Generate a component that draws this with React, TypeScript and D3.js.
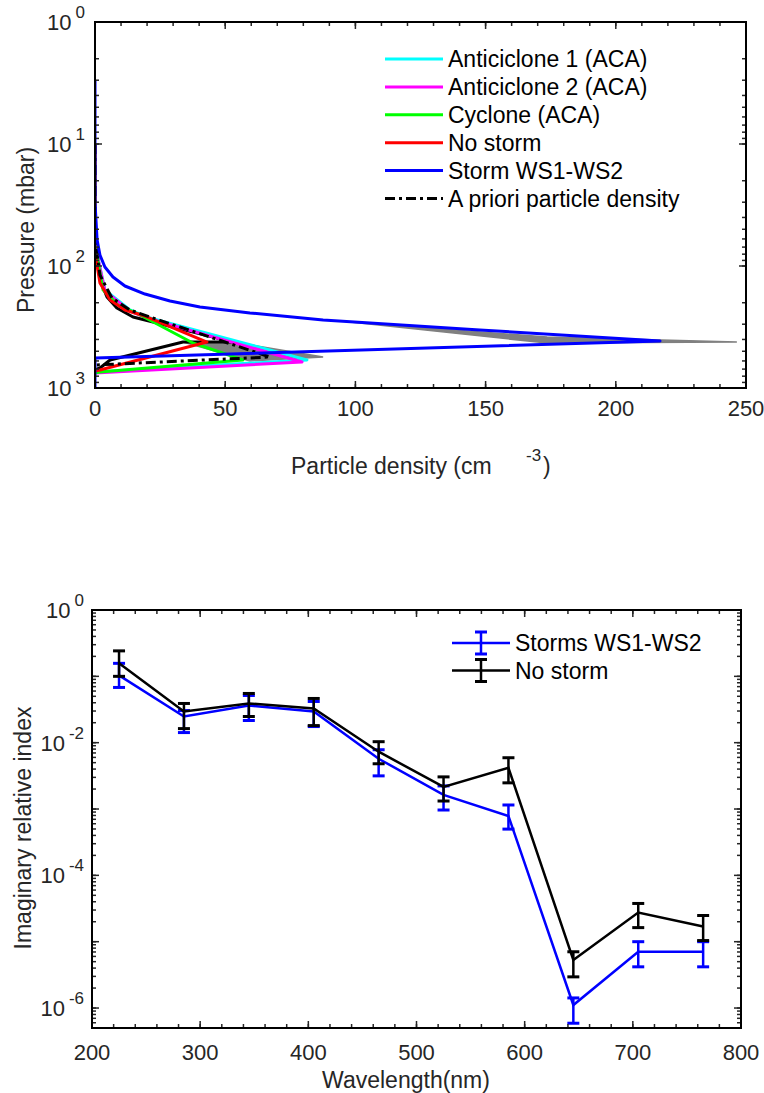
import React from "react";
import * as d3 from "d3";

// ---------- Top chart data: particle density (cm^-3) vs pressure (mbar) ----------
const legendNames = ["Anticiclone 1 (ACA)", "Anticiclone 2 (ACA)", "Cyclone (ACA)", "No storm", "Storm WS1-WS2", "A priori particle density"];

const cyanP = [10, 67, 157, 229.5, 267, 589, 739];
const cyanD = [0, 0, 3.8, 13.4, 21.1, 81.4, 0];

const magentaP = [10, 67, 160, 234, 272, 612, 753];
const magentaD = [0, 0, 3.8, 13.4, 21.1, 79.5, 0];

const greenP = [10, 67, 157, 209, 252, 428, 589, 739, 753];
const greenD = [0, 0, 3.1, 8.8, 17.3, 37.6, 56.8, 1.9, 0];

const redP = [10, 78, 138, 190, 229.5, 257, 420, 711, 726];
const redD = [0, 0, 1.9, 5.8, 11.5, 19.2, 43, 1.9, 0];

const stormP = [3, 30, 61, 81.3, 101.9, 123, 145.9, 169.7, 193.6, 216.8, 242.7, 277, 334.7, 412, 568, 1000];
const stormD = [0, 0, 0.8, 1.9, 3.8, 6.9, 11.5, 19.2, 28.8, 40.3, 59.5, 87.6, 147.8, 217, 0, 0];

const aprioriP = [10, 61, 118.6, 183, 229.5, 262, 557, 648];
const aprioriD = [0, 0, 1.9, 6.5, 13.4, 21.1, 67.2, 0];

const retrievalP = [10, 55.7, 69.9, 130.3, 179.5, 220.9, 261.9, 420, 420, 589, 685, 711];
const retrievalD = [0, 0, 0.8, 1.9, 4.6, 8.4, 14.6, 53, 33.8, 5.8, 1.9, 0];

const grayStormP = [288, 382, 420, 428];
const grayStormD = [98, 173.6, 246.5, 173.6];

const grayCalmP = [420, 420, 557, 600];
const grayCalmD = [33.8, 53, 87.6, 59.5];

const densityTicks = [0, 50, 100, 150, 200, 250];
const pressureTickExp = [0, 1, 2, 3];

// ---------- Bottom chart data: imaginary index vs wavelength ----------
const wavelengths = [225, 285, 345, 405, 465, 525, 585, 645, 705, 765];
const stormIndex = [0.1035, 0.0248, 0.0364, 0.0295, 0.00573, 0.00163, 7.83e-4, 1.11e-6, 7.05e-6, 7.05e-6];
const stormHigh = [0.157, 0.0305, 0.0515, 0.0418, 0.00783, 0.00223, 0.00115, 1.42e-6, 1.0e-5, 1.0e-5];
const stormLow = [0.068, 0.0142, 0.0216, 0.0175, 0.00316, 9.66e-4, 4.98e-4, 5.9e-7, 4.18e-6, 4.18e-6];
const noStormIndex = [0.157, 0.0295, 0.039, 0.0327, 0.00731, 0.00215, 0.00418, 5.3e-6, 2.75e-5, 1.69e-5];
const noStormHigh = [0.242, 0.039, 0.0552, 0.0464, 0.01035, 0.00305, 0.00593, 7.05e-6, 3.77e-5, 2.48e-5];
const noStormLow = [0.1, 0.0163, 0.0248, 0.0181, 0.00481, 0.00132, 0.00248, 2.95e-6, 1.63e-5, 1.04e-5];
const wavelengthTicks = [200, 300, 400, 500, 600, 700, 800];
const indexTickExp = [0, -2, -4, -6];
const bottomLegend = ["Storms WS1-WS2", "No storm"];

const FONT = "'Liberation Sans', Arial, sans-serif";

function logMinor(lo: number, hi: number): number[] {
  const out: number[] = [];
  for (let e = Math.floor(Math.log10(lo)) - 1; e <= Math.ceil(Math.log10(hi)); e++) {
    for (let m = 1; m <= 9; m++) {
      const v = m * Math.pow(10, e);
      if (v >= lo * 0.9999 && v <= hi * 1.0001) out.push(v);
    }
  }
  return out;
}

function linMinor(lo: number, hi: number, step: number): number[] {
  const out: number[] = [];
  for (let v = lo; v <= hi + 1e-9; v += step) out.push(v);
  return out;
}

function Frame({ x0, x1, y0, y1, xTicks, xMinor, yTicks, yMinor, sx, sy }: any) {
  const maj = 7, min = 4;
  const lines: any[] = [];
  xMinor.forEach((v: number, i: number) => {
    const x = sx(v);
    lines.push(<line key={"xm" + i} x1={x} x2={x} y1={y1} y2={y1 - min} />);
    lines.push(<line key={"xmt" + i} x1={x} x2={x} y1={y0} y2={y0 + min} />);
  });
  xTicks.forEach((v: number, i: number) => {
    const x = sx(v);
    lines.push(<line key={"xM" + i} x1={x} x2={x} y1={y1} y2={y1 - maj} />);
    lines.push(<line key={"xMt" + i} x1={x} x2={x} y1={y0} y2={y0 + maj} />);
  });
  yMinor.forEach((v: number, i: number) => {
    const y = sy(v);
    lines.push(<line key={"ym" + i} x1={x0} x2={x0 + min} y1={y} y2={y} />);
    lines.push(<line key={"ymr" + i} x1={x1} x2={x1 - min} y1={y} y2={y} />);
  });
  yTicks.forEach((v: number, i: number) => {
    const y = sy(v);
    lines.push(<line key={"yM" + i} x1={x0} x2={x0 + maj} y1={y} y2={y} />);
    lines.push(<line key={"yMr" + i} x1={x1} x2={x1 - maj} y1={y} y2={y} />);
  });
  return (
    <g stroke="#262626" strokeWidth={1.5} fill="none">
      {lines}
      <rect x={x0} y={y0} width={x1 - x0} height={y1 - y0} stroke="#000" strokeWidth={2} />
    </g>
  );
}

function PowLabel({ x, y, exp }: { x: number; y: number; exp: number }) {
  return (
    <text x={x} y={y + 8} textAnchor="end" fontSize={22} fontFamily={FONT} fill="#262626">
      10
      <tspan dx={4} dy={-12} fontSize={17}>{String(exp)}</tspan>
    </text>
  );
}

export default function App() {
  // ---------- top chart ----------
  const T = { x0: 95, x1: 746, y0: 22, y1: 388 };
  const sxT = d3.scaleLinear().domain([0, 250]).range([T.x0, T.x1]);
  const syT = d3.scaleLog().domain([1, 1000]).range([T.y0, T.y1]);
  const prof = (P: number[], D: number[]) =>
    d3.line<number>().x((_, i) => sxT(D[i])).y((p) => syT(p))(P) || "";

  const topSeries = [
    { P: retrievalP, D: retrievalD, color: "#000", dash: undefined as any },
    { P: cyanP, D: cyanD, color: "#00FFFF" },
    { P: magentaP, D: magentaD, color: "#FF00FF" },
    { P: greenP, D: greenD, color: "#00FF00" },
    { P: redP, D: redD, color: "#FF0000" },
    { P: aprioriP, D: aprioriD, color: "#000", dash: "10,4,3,4" },
    { P: stormP, D: stormD, color: "#0000FF" },
  ];
  const legendColors = ["#00FFFF", "#FF00FF", "#00FF00", "#FF0000", "#0000FF", "#000"];

  // ---------- bottom chart ----------
  const B = { x0: 92, x1: 741, y0: 610, y1: 1028 };
  const sxB = d3.scaleLinear().domain([200, 800]).range([B.x0, B.x1]);
  const syB = d3.scaleLog().domain([5e-7, 1]).range([B.y1, B.y0]);
  const bline = d3.line<number>().x((_, i) => sxB(wavelengths[i])).y((v) => syB(v));
  const bottomSeries = [
    { v: stormIndex, hi: stormHigh, lo: stormLow, color: "#0000FF" },
    { v: noStormIndex, hi: noStormHigh, lo: noStormLow, color: "#000" },
  ];
  const cap = 6;

  return (
    <svg width={764} height={1093} style={{ display: "block", position: "absolute", left: 0, top: 0, background: "#fff" }}>
      <defs>
        <clipPath id="clipT"><rect x={T.x0} y={T.y0} width={T.x1 - T.x0} height={T.y1 - T.y0} /></clipPath>
        <clipPath id="clipB"><rect x={B.x0} y={B.y0} width={B.x1 - B.x0} height={B.y1 - B.y0} /></clipPath>
      </defs>
      <rect x={0} y={0} width={764} height={1093} fill="#fff" />

      {/* ===== TOP ===== */}
      <g clipPath="url(#clipT)">
        <path d={prof(grayStormP, grayStormD) + "Z"} fill="#808080" stroke="#808080" strokeWidth={1.5} />
        <path d={prof(grayCalmP, grayCalmD) + "Z"} fill="#808080" stroke="#808080" strokeWidth={1.5} />
        {topSeries.map((s, i) => (
          <path key={i} d={prof(s.P, s.D)} fill="none" stroke={s.color} strokeWidth={3}
            strokeDasharray={(s as any).dash} strokeLinejoin="round" />
        ))}
      </g>
      <Frame x0={T.x0} x1={T.x1} y0={T.y0} y1={T.y1} sx={sxT} sy={syT}
        xTicks={densityTicks} xMinor={linMinor(0, 250, 10)}
        yTicks={pressureTickExp.map((e) => Math.pow(10, e))} yMinor={logMinor(1, 1000)} />
      {densityTicks.map((v) => (
        <text key={v} x={sxT(v)} y={416} textAnchor="middle" fontSize={22} fontFamily={FONT} fill="#262626">{v}</text>
      ))}
      {pressureTickExp.map((e) => (
        <PowLabel key={e} x={85} y={syT(Math.pow(10, e))} exp={e} />
      ))}
      <text x={291} y={474} fontSize={23} fontFamily={FONT} fill="#262626">Particle density (cm</text>
      <text x={526} y={461} fontSize={17} fontFamily={FONT} fill="#262626">-3</text>
      <text x={543} y={474} fontSize={23} fontFamily={FONT} fill="#262626">)</text>
      <text transform={`translate(34,${230}) rotate(-90)`} textAnchor="middle" fontSize={23} fontFamily={FONT} fill="#262626">Pressure (mbar)</text>
      {legendNames.map((n, i) => {
        const y = 59 + i * 27.9;
        return (
          <g key={n}>
            <line x1={385} x2={443} y1={y} y2={y} stroke={legendColors[i]} strokeWidth={3}
              strokeDasharray={i === 5 ? "10,4,3,4" : undefined} />
            <text x={448} y={y + 8} fontSize={23} fontFamily={FONT} fill="#000">{n}</text>
          </g>
        );
      })}

      {/* ===== BOTTOM ===== */}
      <g clipPath="url(#clipB)">
        {bottomSeries.map((s, k) => (
          <g key={k} stroke={s.color} strokeWidth={2.5} fill="none">
            <path d={bline(s.v) || ""} strokeLinejoin="miter" />
            {s.v.map((_, i) => {
              const x = sxB(wavelengths[i]);
              const yh = syB(s.hi[i]);
              const yl = syB(s.lo[i]);
              return (
                <g key={i}>
                  <line x1={x} x2={x} y1={yh} y2={yl} />
                  <line x1={x - cap} x2={x + cap} y1={yh} y2={yh} strokeWidth={3} />
                  <line x1={x - cap} x2={x + cap} y1={yl} y2={yl} strokeWidth={3} />
                </g>
              );
            })}
          </g>
        ))}
      </g>
      <Frame x0={B.x0} x1={B.x1} y0={B.y0} y1={B.y1} sx={sxB} sy={syB}
        xTicks={wavelengthTicks} xMinor={linMinor(200, 800, 20)}
        yTicks={[0, -1, -2, -3, -4, -5, -6].map((e) => Math.pow(10, e))} yMinor={logMinor(5e-7, 1)} />
      {wavelengthTicks.map((v) => (
        <text key={v} x={sxB(v)} y={1060} textAnchor="middle" fontSize={22} fontFamily={FONT} fill="#262626">{v}</text>
      ))}
      {indexTickExp.map((e) => (
        <PowLabel key={e} x={84} y={syB(Math.pow(10, e))} exp={e} />
      ))}
      <text x={406} y={1088} textAnchor="middle" fontSize={23} fontFamily={FONT} fill="#262626">Wavelength(nm)</text>
      <text transform={`translate(31,${828}) rotate(-90)`} textAnchor="middle" fontSize={23} fontFamily={FONT} fill="#262626">Imaginary relative index</text>
      {bottomLegend.map((n, i) => {
        const y = 643 + i * 27.5;
        const c = bottomSeries[i].color;
        return (
          <g key={n} stroke={c} strokeWidth={2.5}>
            <line x1={452} x2={510} y1={y} y2={y} />
            <line x1={481} x2={481} y1={y - 11} y2={y + 11} />
            <line x1={475} x2={487} y1={y - 11} y2={y - 11} strokeWidth={3} />
            <line x1={475} x2={487} y1={y + 11} y2={y + 11} strokeWidth={3} />
            <text x={515} y={y + 8} fontSize={23} fontFamily={FONT} fill="#000" stroke="none">{n}</text>
          </g>
        );
      })}
    </svg>
  );
}
